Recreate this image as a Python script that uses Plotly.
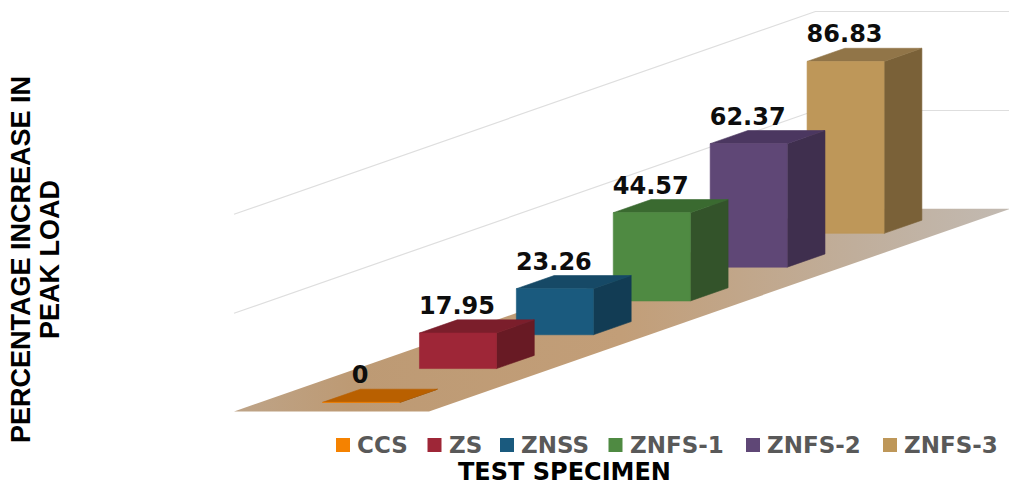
import plotly.graph_objects as go

categories = ["CCS", "ZS", "ZNSS", "ZNFS-1", "ZNFS-2", "ZNFS-3"]
values = [0, 17.95, 23.26, 44.57, 62.37, 86.83]
labels = ["0", "17.95", "23.26", "44.57", "62.37", "86.83"]
grid_values = [50, 100]
y_title_lines = ["PERCENTAGE INCREASE IN", "PEAK LOAD"]
x_title = "TEST SPECIMEN"

front = ["#F58200", "#9E2637", "#1A5A7E", "#4F8A42", "#5F4776", "#BE9759"]
top = ["#B96000", "#7B1E2B", "#164966", "#3A6A30", "#4B3760", "#917548"]
side = ["#8A4800", "#681A24", "#123C54", "#33532A", "#3F2F4E", "#7A6138"]

# Oblique projection: s across the floor, t along the series axis, v = value
ORIGIN = (234.0, 411.5)
S_PX = 195.0
T_PX = (96.9, -33.8)
V_PX = 1.98
T_MAX = 6.0


def proj(s, t, v=0.0):
    return (ORIGIN[0] + S_PX * s + T_PX[0] * t,
            ORIGIN[1] + T_PX[1] * t - V_PX * v)


def poly(fig, pts, color):
    xs = [p[0] for p in pts] + [pts[0][0]]
    ys = [p[1] for p in pts] + [pts[0][1]]
    fig.add_trace(go.Scatter(x=xs, y=ys, mode="lines", fill="toself", fillcolor=color,
                             line=dict(color=color, width=0.6),
                             hoverinfo="skip", showlegend=False))


fig = go.Figure()

# gridlines
for g in grid_values:
    a, b, c = proj(0, 0, g), proj(0, T_MAX, g), proj(1, T_MAX, g)
    fig.add_trace(go.Scatter(x=[a[0], b[0], c[0]], y=[a[1] + 0.8, b[1] + 0.8, c[1] + 0.8], mode="lines",
                             line=dict(color="#DEDEDE", width=1.2),
                             hoverinfo="skip", showlegend=False))

# floor
f = [proj(0, 0), proj(1, 0), proj(1, T_MAX), proj(0, T_MAX)]
fig.add_trace(go.Scatter(
    x=[p[0] for p in f] + [f[0][0]], y=[p[1] for p in f] + [f[0][1]],
    mode="lines", line=dict(width=0), hoverinfo="skip", showlegend=False,
    fill="toself",
    fillgradient=dict(type="horizontal",
                      colorscale=[[0, "#BEA488"], [0.15, "#BD9A74"], [0.5, "#C29E78"],
                                  [0.8, "#C0AE9B"], [1, "#C2BAB2"]]),
))

# bars, back to front
S0, S1, T0, DEPTH = 0.32, 0.715, 0.27, 0.39
for i in range(len(values) - 1, -1, -1):
    v = values[i]
    t0, t1 = T0 + i, T0 + i + DEPTH
    poly(fig, [proj(S1, t0), proj(S1, t1), proj(S1, t1, v), proj(S1, t0, v)], side[i])
    poly(fig, [proj(S0, t0, v), proj(S1, t0, v), proj(S1, t1, v), proj(S0, t1, v)], top[i])
    poly(fig, [proj(S0, t0), proj(S1, t0), proj(S1, t0, v), proj(S0, t0, v)], front[i])

# data labels
lab_pts = [proj((S0 + S1) / 2, T0 + i, v) for i, v in enumerate(values)]
fig.add_trace(go.Scatter(
    x=[p[0] - 1 for p in lab_pts], y=[p[1] - 25 for p in lab_pts],
    mode="text", text=labels, textposition="middle center",
    textfont=dict(family="DejaVu Sans", size=24, color="#0D0D0D", weight="bold"),
    hoverinfo="skip", showlegend=False))

# legend
swatch_x = [336, 427.5, 500, 608.5, 746, 883]
shapes, annos = [], []
for name, col, sx in zip(categories, front, swatch_x):
    shapes.append(dict(type="rect", xref="x", yref="y", x0=sx, x1=sx + 14, y0=438, y1=452,
                       fillcolor=col, line=dict(width=0)))
    annos.append(dict(x=sx + 19, y=445, xref="x", yref="y", text=name, showarrow=False,
                      xanchor="left", yanchor="middle",
                      font=dict(family="DejaVu Sans", size=23, color="#595959", weight="bold")))

annos.append(dict(x=564, y=472, xref="x", yref="y", text=x_title, showarrow=False,
                  xanchor="center", yanchor="middle",
                  font=dict(family="DejaVu Sans", size=24, color="#000000", weight="bold")))
for line, lx in zip(y_title_lines, [21, 50]):
    annos.append(dict(x=lx, y=260, xref="x", yref="y", text=line, showarrow=False, textangle=-90,
                      xanchor="center", yanchor="middle", align="center",
                      font=dict(family="Liberation Sans", size=27, color="#000000", weight="bold")))

fig.update_layout(
    width=1009, height=488, margin=dict(l=0, r=0, t=0, b=0),
    paper_bgcolor="white", plot_bgcolor="white", showlegend=False,
    xaxis=dict(range=[0, 1009], visible=False, fixedrange=True),
    yaxis=dict(range=[488, 0], visible=False, fixedrange=True),
    shapes=shapes, annotations=annos,
)
fig.write_html("out.html", config=dict(displayModeBar=False),
               post_script="document.body.style.margin='0';document.documentElement.style.overflow='hidden';")
